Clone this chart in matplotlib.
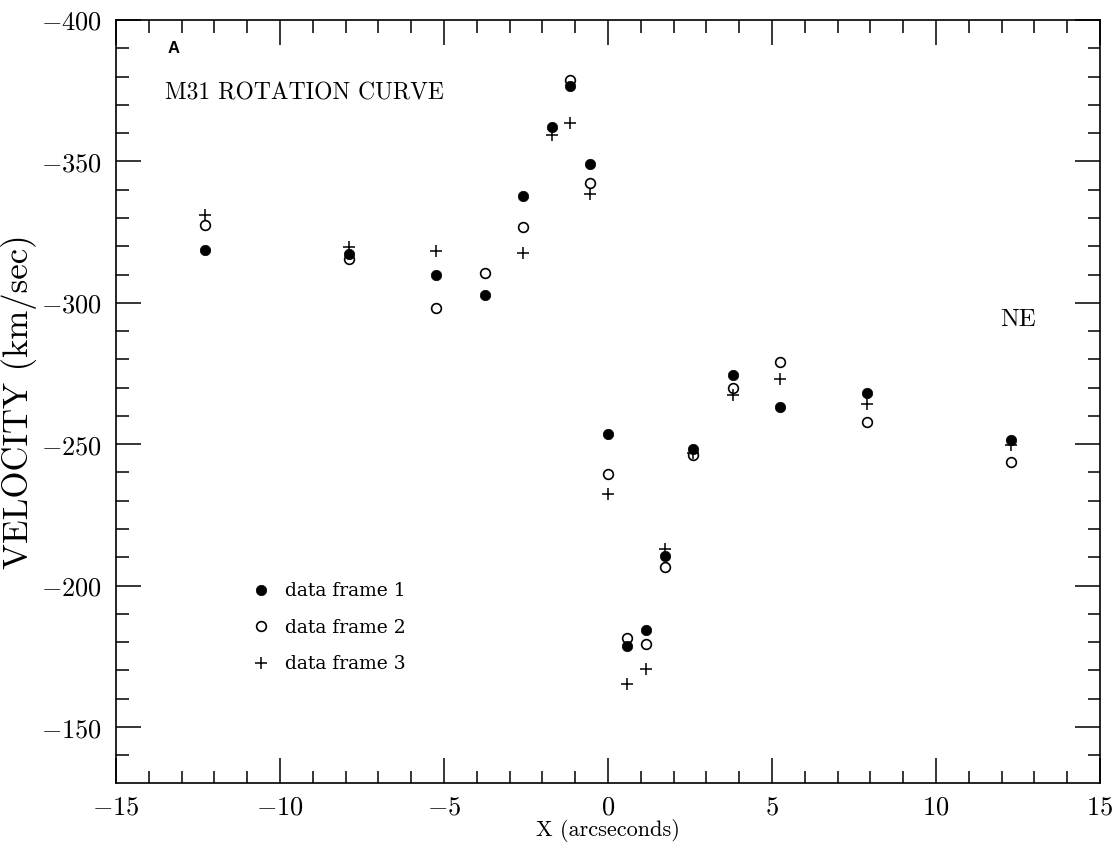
import numpy as np
import matplotlib
matplotlib.use("Agg")
import matplotlib.pyplot as plt
from matplotlib.ticker import MultipleLocator, FuncFormatter

# Data ---------------------------------------------------------------------------
x_pos = [-12.3, -7.9, -5.25, -3.75, -2.6, -1.7, -1.15, -0.55, 0.0,
         0.58, 1.15, 1.75, 2.6, 3.8, 5.25, 7.9, 12.3]

nan = np.nan
v_frame1 = [-318.7, -317.3, -309.8, -302.8, -337.8, -362.3, -376.7, -349.0, -253.5,
            -178.8, -184.3, -210.3, -248.2, -274.6, -263.3, -268.0, -251.5]
v_frame2 = [-327.5, -315.4, -298.0, -310.4, -326.7, nan, -378.8, -342.3, -239.5,
            -181.3, -179.2, -206.7, -246.2, -269.9, -279.2, -257.7, -243.8]
v_frame3 = [-331.0, -319.8, -318.4, nan, -317.7, -359.3, -363.7, -338.5, -232.4,
            -165.2, -170.5, -212.8, -246.8, -267.4, -272.9, -264.2, -249.7]

labels = ["data frame 1", "data frame 2", "data frame 3"]

# Style ---------------------------------------------------------------------------
plt.rcParams['mathtext.fontset'] = 'cm'

fig = plt.figure(figsize=(11.19, 8.44), dpi=100)
ax = fig.add_axes([116/1119, 1 - 783/844, (1100 - 116)/1119, (783 - 20)/844])

ax.plot(x_pos, v_frame3, ls='none', marker='+', ms=8, mew=1.1, color='black',
        label=labels[2], zorder=3)
ax.plot(x_pos, v_frame2, ls='none', marker='o', ms=7, mew=1.2, mfc='none', color='black',
        label=labels[1], zorder=4)
ax.plot(x_pos, v_frame1, ls='none', marker='o', ms=7.5, mew=0.5, color='black',
        label=labels[0], zorder=5)

ax.set_xlim(-15, 15)
ax.set_ylim(-130.2, -400)

ax.xaxis.set_major_locator(MultipleLocator(5))
ax.xaxis.set_minor_locator(MultipleLocator(1))
ax.yaxis.set_major_locator(MultipleLocator(50))
ax.yaxis.set_minor_locator(MultipleLocator(10))
fmt = FuncFormatter(lambda v, p: r"$%d$" % round(v))
ax.xaxis.set_major_formatter(fmt)
ax.yaxis.set_major_formatter(fmt)

ax.tick_params(which='both', direction='in', top=True, right=True, width=1.1,
               labelsize=19, colors='black')
ax.tick_params(which='major', length=18)
ax.tick_params(axis='x', which='major', pad=8)
ax.tick_params(axis='y', which='major', pad=10)
ax.tick_params(which='minor', length=9)
for s in ax.spines.values():
    s.set_linewidth(1.2)

ax.set_xlabel("X (arcseconds)", family='cmr10', fontsize=16)
ax.xaxis.set_label_coords(0.5, -0.047)
ax.set_ylabel("VELOCITY (km/sec)", family='cmr10', fontsize=25)
ax.yaxis.set_label_coords(-0.08, 0.5)

ax.text(0.052, 0.963, "A", transform=ax.transAxes, family='Liberation Sans',
        fontweight='bold', fontsize=12, va='center', ha='left')
ax.text(0.05, 0.904, "M31 ROTATION CURVE", transform=ax.transAxes, family='cmr10',
        fontsize=17, va='center', ha='left')
ax.text(0.917, 0.607, "NE", transform=ax.transAxes, family='cmr10',
        fontsize=18, va='center', ha='center')

h, l = ax.get_legend_handles_labels()
order = [2, 1, 0]
leg = ax.legend([h[i] for i in order], [l[i] for i in order], loc='upper left',
                bbox_to_anchor=(0.122, 0.285), frameon=False, handlelength=0.9,
                handletextpad=0.83, labelspacing=0.98,
                prop={'family': 'DejaVu Serif', 'size': 13.5})

fig.savefig("out.png", dpi=100)
